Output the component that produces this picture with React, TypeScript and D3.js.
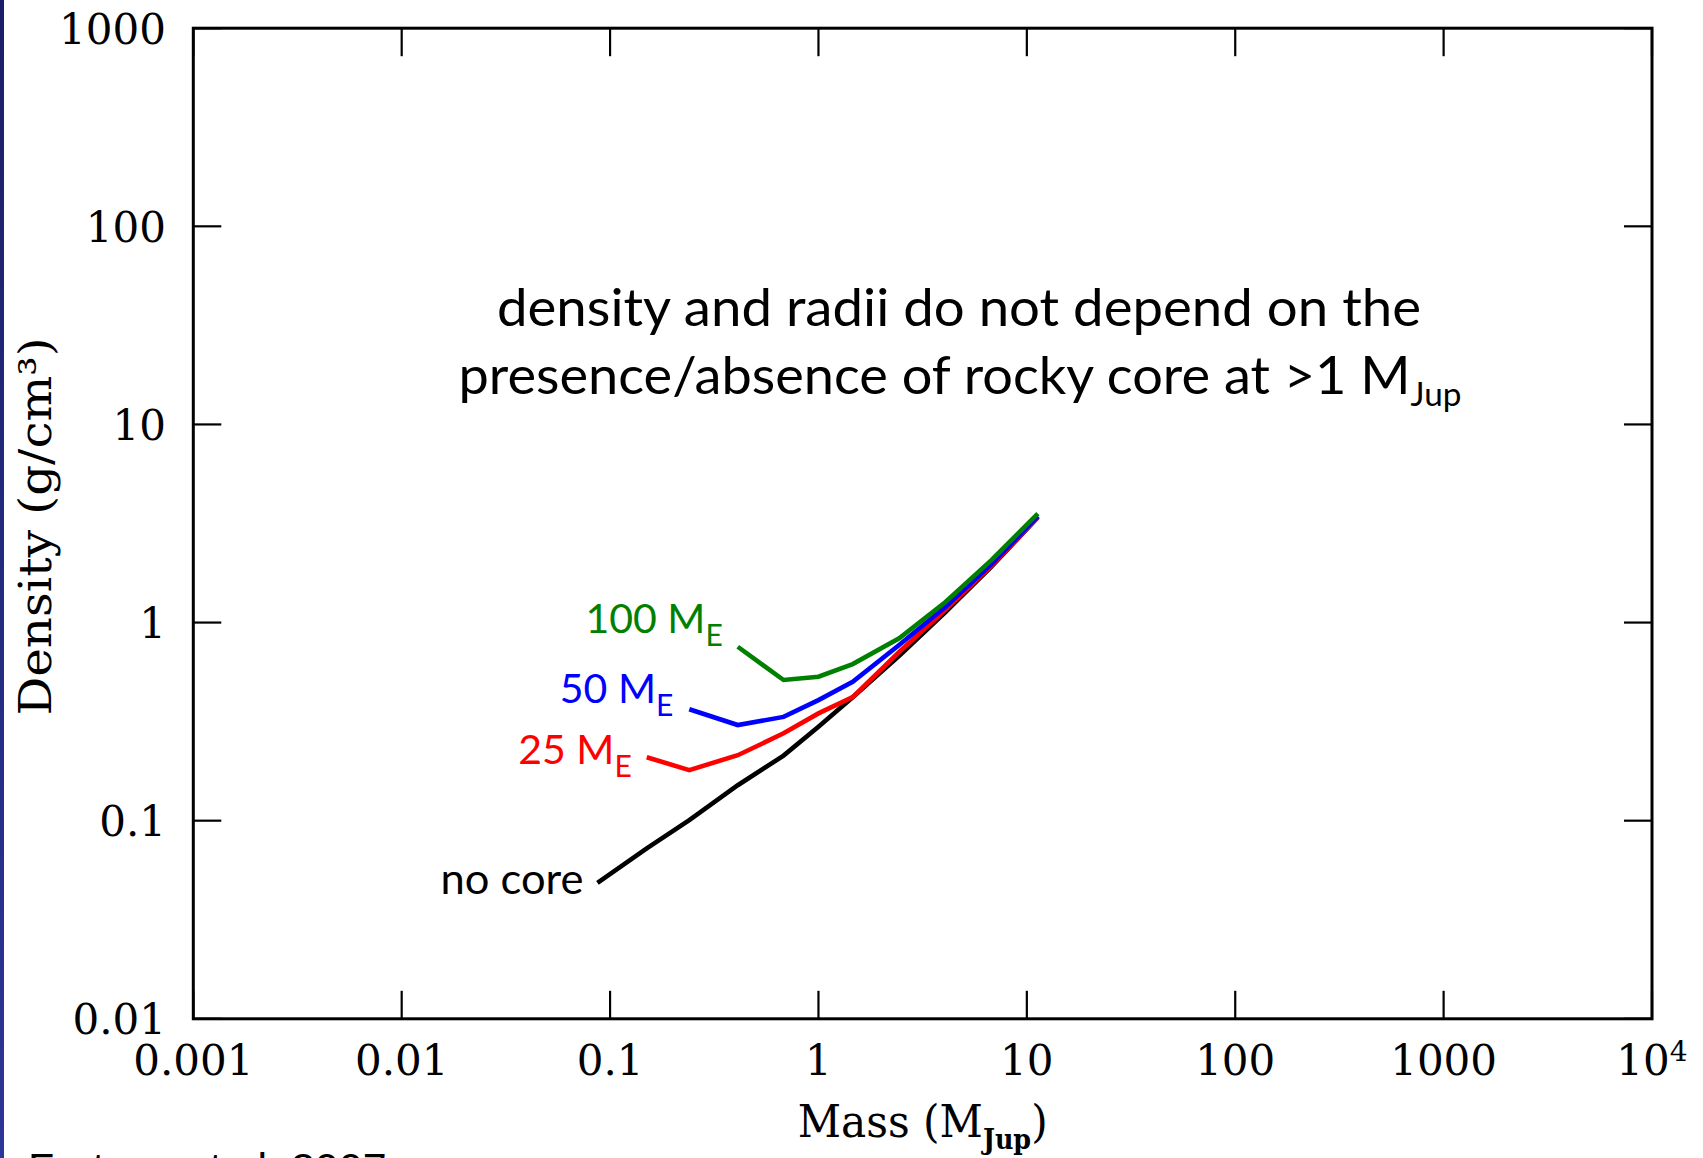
import React, { useEffect } from "react";
import * as d3 from "d3";

// ---------- data ----------
const masses = [0.087, 0.15, 0.24, 0.41, 0.68, 1.0, 1.46, 2.44, 4.07, 6.78, 11.3];
const densityNoCore = [0.0486, 0.0725, 0.1007, 0.151, 0.213, 0.298, 0.42, 0.68, 1.13, 1.92, 3.4];
const densityCore25 = [0.209, 0.18, 0.214, 0.276, 0.348, 0.42, 0.71, 1.16, 1.94, 3.4];
const densityCore50 = [0.365, 0.304, 0.334, 0.406, 0.502, 0.77, 1.2, 1.98, 3.45];
const densityCore100 = [0.755, 0.513, 0.533, 0.617, 0.832, 1.27, 2.07, 3.55];

const xTickValues = [0.001, 0.01, 0.1, 1, 10, 100, 1000, 10000];
const xTickLabels = ["0.001", "0.01", "0.1", "1", "10", "100", "1000", "10^4"];
const yTickValues = [0.01, 0.1, 1, 10, 100, 1000];
const yTickLabels = ["0.01", "0.1", "1", "10", "100", "1000"];

const seriesNames = ["no core", "25", "50", "100"];
const seriesValues = [densityNoCore, densityCore25, densityCore50, densityCore100];

// ---------- styles / layout ----------
const W = 1703;
const H = 1158;
const plot = { left: 193.3, right: 1652, top: 28.2, bottom: 1018.8 };
const seriesColors = ["#000000", "#ff0000", "#0000ff", "#008000"];
const labelOffsets = [
  { dx: -14, dy: 11 },
  { dx: -15, dy: 7 },
  { dx: -16, dy: -6 },
  { dx: -15, dy: -14 },
];
const serif = "'DejaVu Serif', serif";
const sans = "Lato, 'Open Sans', sans-serif";

export default function App() {
  useEffect(() => {
    document.body.style.margin = "0";
  }, []);

  const x = d3.scaleLog().domain([1e-3, 1e4]).range([plot.left, plot.right]);
  const y = d3.scaleLog().domain([0.01, 1000]).range([plot.bottom, plot.top]);

  const series = seriesValues.map((vals) => {
    const offset = masses.length - vals.length;
    return vals.map((v, j) => [masses[offset + j], v] as [number, number]);
  });

  const line = d3
    .line<[number, number]>()
    .x((d) => x(d[0]))
    .y((d) => y(d[1]));

  const tickLen = 28;

  return (
    <svg width={W} height={H} style={{ display: "block", background: "#fff" }}>
      <defs>
        <linearGradient id="navy" x1="0" y1="0" x2="0" y2="1">
          <stop offset="0" stopColor="#1b1e66" />
          <stop offset="1" stopColor="#2d3699" />
        </linearGradient>
      </defs>
      <rect x={0} y={0} width={W} height={H} fill="#fff" />
      <rect x={0} y={0} width={4} height={H} fill="url(#navy)" />

      {/* ticks */}
      {xTickValues.map((v, i) => (
        <g key={"xt" + i}>
          <line x1={x(v)} x2={x(v)} y1={plot.bottom} y2={plot.bottom - tickLen} stroke="#000" strokeWidth={2.2} />
          <line x1={x(v)} x2={x(v)} y1={plot.top} y2={plot.top + tickLen} stroke="#000" strokeWidth={2.2} />
        </g>
      ))}
      {yTickValues.map((v, i) => (
        <g key={"yt" + i}>
          <line x1={plot.left} x2={plot.left + tickLen} y1={y(v)} y2={y(v)} stroke="#000" strokeWidth={2.2} />
          <line x1={plot.right} x2={plot.right - tickLen} y1={y(v)} y2={y(v)} stroke="#000" strokeWidth={2.2} />
        </g>
      ))}

      {/* frame */}
      <rect
        x={plot.left}
        y={plot.top}
        width={plot.right - plot.left}
        height={plot.bottom - plot.top}
        fill="none"
        stroke="#000"
        strokeWidth={3}
      />

      {/* x tick labels */}
      {xTickValues.map((v, i) => {
        const lab = xTickLabels[i];
        if (lab.includes("^")) {
          const [b, e] = lab.split("^");
          return (
            <text key={"xl" + i} x={x(v)} y={1075} textAnchor="middle" fontFamily={serif} fontSize={42} fill="#000">
              {b}
              <tspan fontSize={28} dy={-14}>{e}</tspan>
            </text>
          );
        }
        return (
          <text key={"xl" + i} x={x(v)} y={1075} textAnchor="middle" fontFamily={serif} fontSize={42} fill="#000">
            {lab}
          </text>
        );
      })}

      {/* y tick labels */}
      {yTickValues.map((v, i) => (
        <text key={"yl" + i} x={166} y={y(v) + 15.5} textAnchor="end" fontFamily={serif} fontSize={42} fill="#000">
          {yTickLabels[i]}
        </text>
      ))}

      {/* axis titles */}
      <text
        x={(plot.left + plot.right) / 2}
        y={1137}
        textAnchor="middle"
        fontFamily={serif}
        fontSize={45}
        fill="#000"
        textLength={250}
        lengthAdjust="spacingAndGlyphs"
      >
        Mass (M
        <tspan fontSize={27} fontWeight="bold" dy={12}>Jup</tspan>
        <tspan dy={-12}>)</tspan>
      </text>
      <text
        transform={`translate(51, ${(plot.top + plot.bottom) / 2 + 3}) rotate(-90)`}
        textAnchor="middle"
        fontFamily={serif}
        fontSize={44}
        fill="#000"
        textLength={378}
        lengthAdjust="spacingAndGlyphs"
      >
        Density (g/cm³)
      </text>

      {/* annotation */}
      <text
        x={959}
        y={326}
        textAnchor="middle"
        fontFamily={sans}
        fontSize={52}
        fill="#000"
        textLength={924}
        lengthAdjust="spacingAndGlyphs"
      >
        density and radii do not depend on the
      </text>
      <text
        x={960}
        y={394}
        textAnchor="middle"
        fontFamily={sans}
        fontSize={52}
        fill="#000"
        textLength={1003}
        lengthAdjust="spacingAndGlyphs"
      >
        presence/absence of rocky core at &gt;1 M
        <tspan fontSize={32} dy={12}>Jup</tspan>
      </text>

      {/* curves */}
      {series.map((pts, i) => (
        <path key={"s" + i} d={line(pts) || ""} fill="none" stroke={seriesColors[i]} strokeWidth={4.6} />
      ))}

      {/* curve labels */}
      {series.map((pts, i) => {
        const p = pts[0];
        const lx = x(p[0]) + labelOffsets[i].dx;
        const ly = y(p[1]) + labelOffsets[i].dy;
        const name = seriesNames[i];
        if (i === 0) {
          return (
            <text
              key={"l" + i}
              x={lx}
              y={ly}
              textAnchor="end"
              fontFamily={sans}
              fontSize={42}
              fill={seriesColors[i]}
              textLength={143}
              lengthAdjust="spacingAndGlyphs"
            >
              {name}
            </text>
          );
        }
        return (
          <text key={"l" + i} x={lx} y={ly} textAnchor="end" fontFamily={sans} fontSize={41} fill={seriesColors[i]}>
            {name} M<tspan fontSize={30} dy={13}>E</tspan>
          </text>
        );
      })}

      {/* source */}
      <text x={28} y={1183} fontFamily="'Liberation Sans', Arial, sans-serif" fontSize={43} fill="#000">
        Fortney et al. 2007
      </text>
    </svg>
  );
}
